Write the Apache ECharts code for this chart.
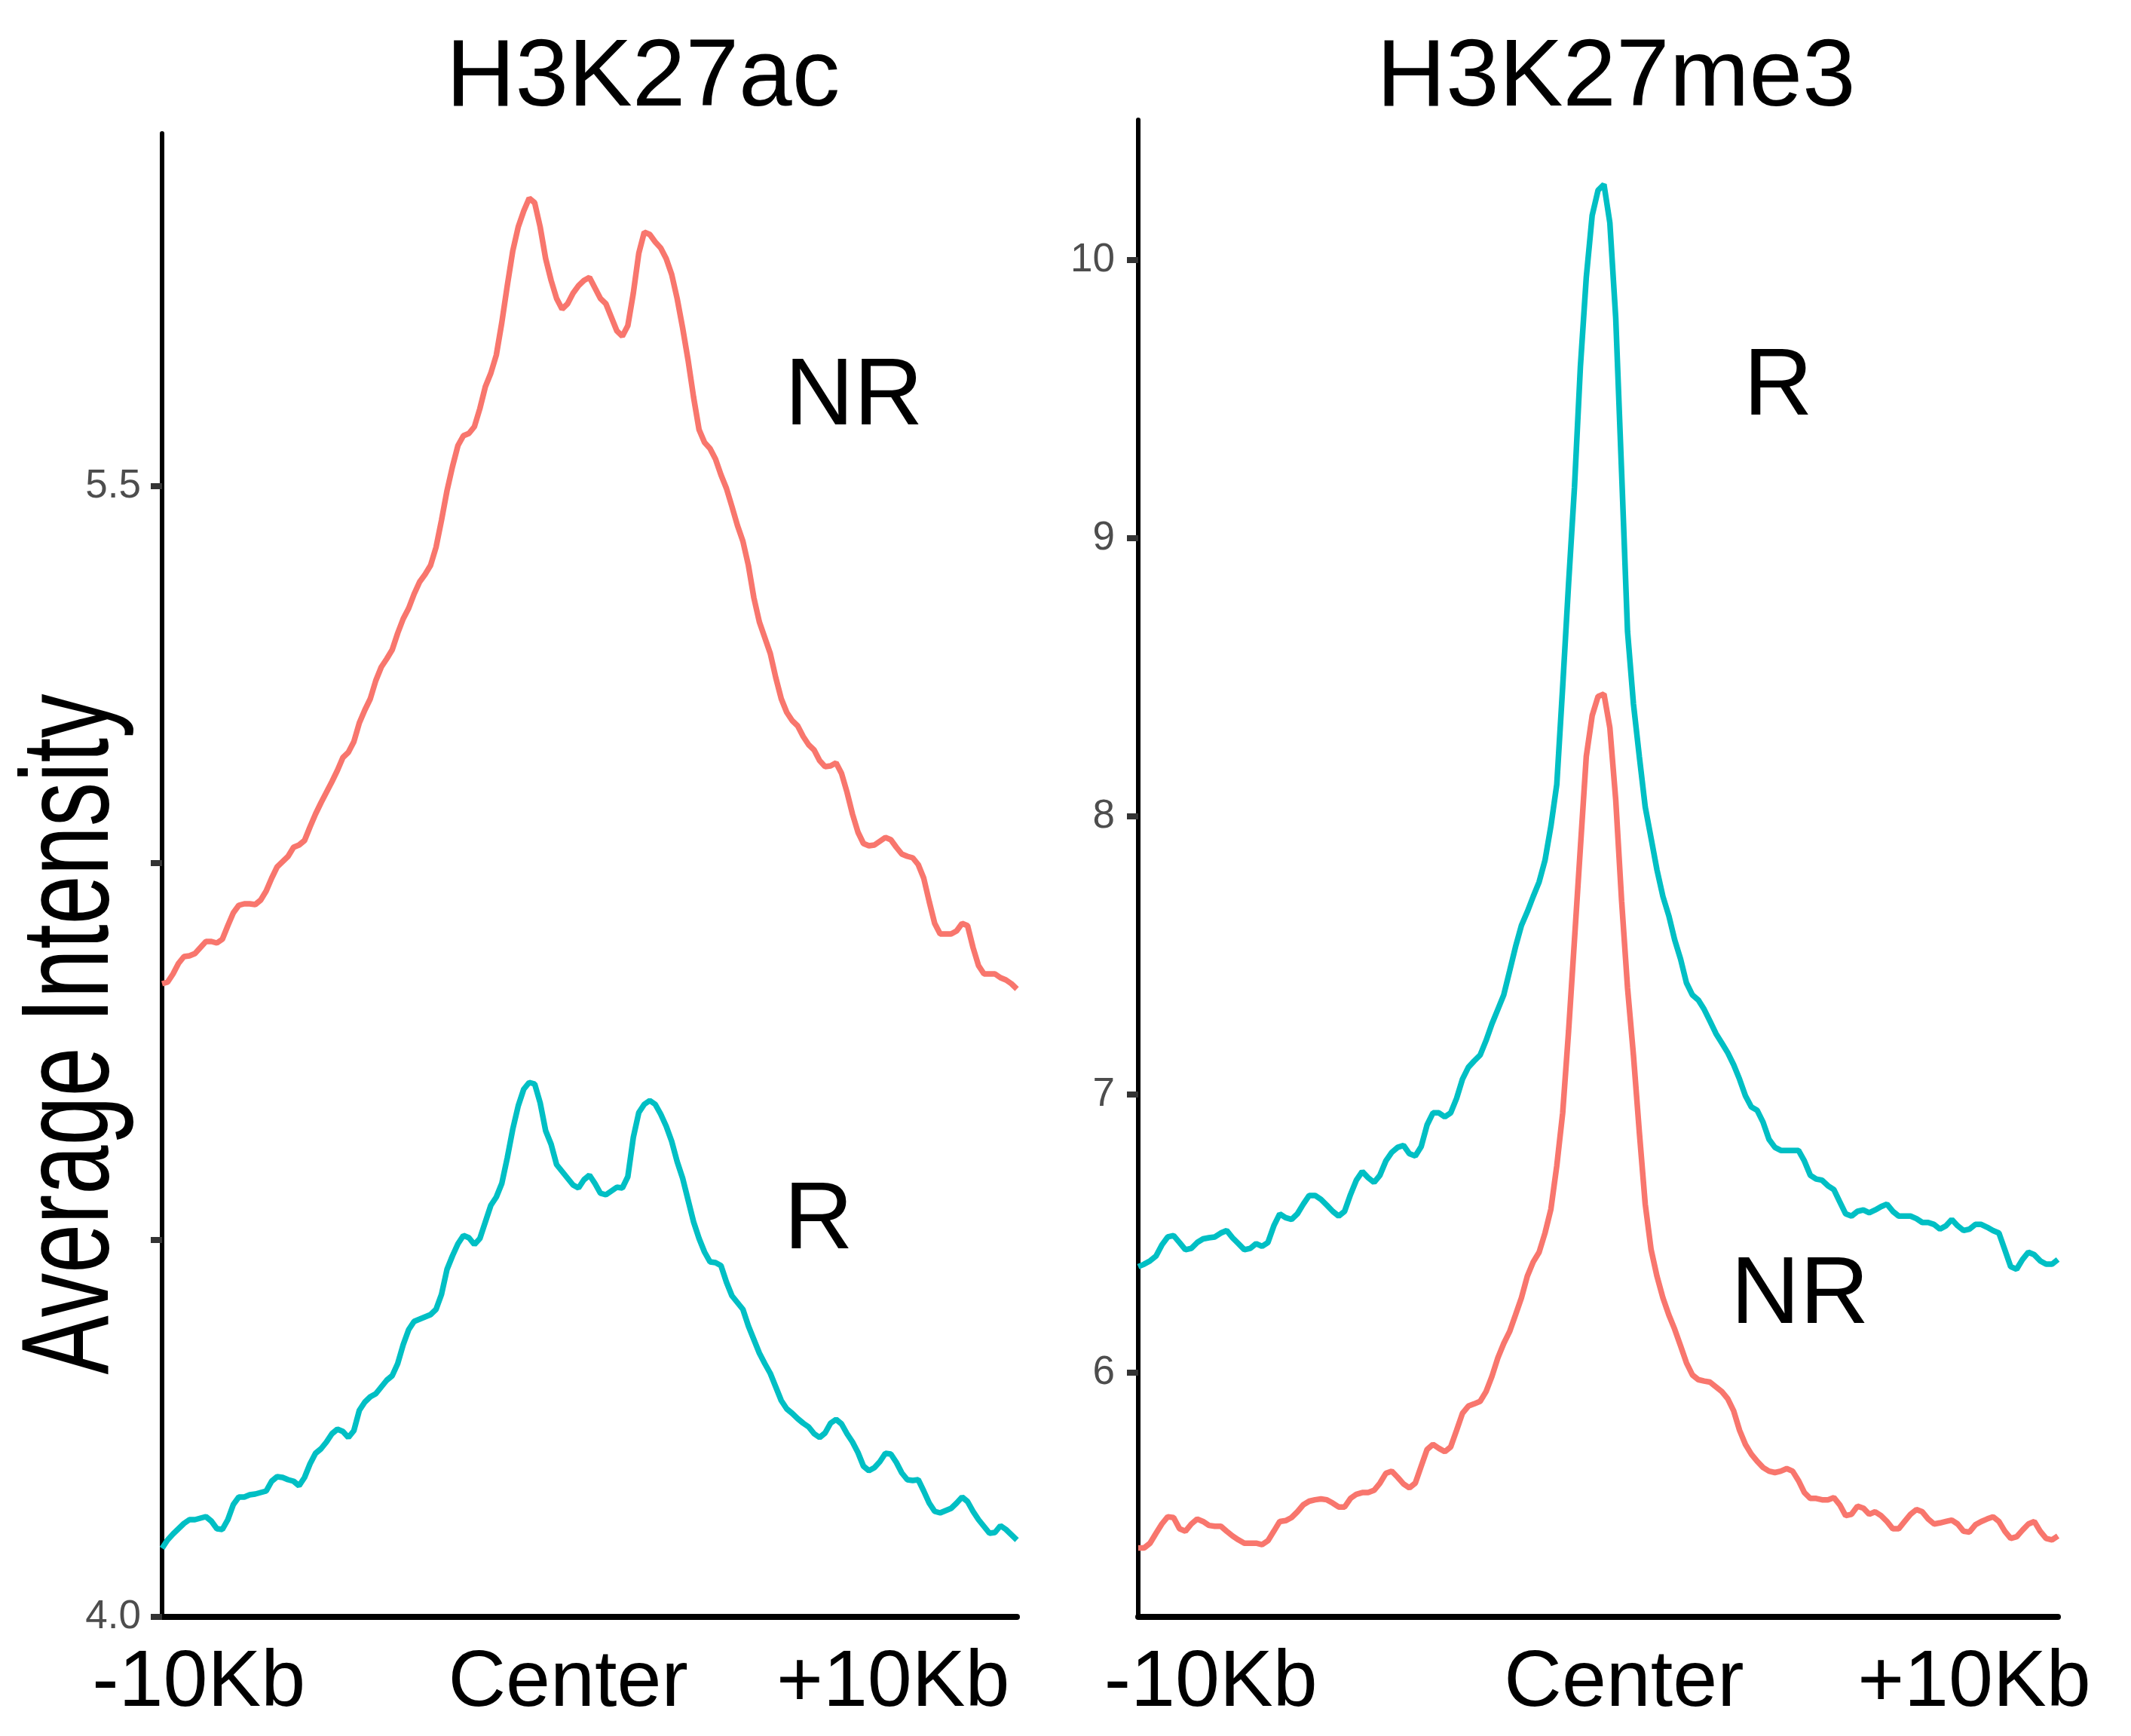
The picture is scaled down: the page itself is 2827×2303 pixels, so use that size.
<!DOCTYPE html>
<html>
<head>
<meta charset="utf-8">
<script src="https://cdn.jsdelivr.net/npm/echarts@6/dist/echarts.min.js"></script>
<style>
  html, body { margin: 0; padding: 0; background: #ffffff; }
  #chart { width: 2827px; height: 2303px; }
</style>
</head>
<body>
<div id="chart"></div>
<script>
// Average signal profiles across a ±10 kb window (157 bins per profile)

// H3K27ac panel
const acNR = [
  4.840, 4.842, 4.853, 4.867, 4.876, 4.877, 4.880, 4.888, 4.896, 4.896,
  4.894, 4.899, 4.917, 4.934, 4.944, 4.946, 4.946, 4.945, 4.951, 4.963,
  4.980, 4.995, 5.002, 5.009, 5.021, 5.024, 5.030, 5.048, 5.065, 5.080,
  5.094, 5.108, 5.123, 5.140, 5.147, 5.161, 5.186, 5.203, 5.218, 5.242,
  5.260, 5.271, 5.283, 5.305, 5.324, 5.338, 5.357, 5.373, 5.383, 5.395,
  5.419, 5.455, 5.494, 5.526, 5.554, 5.567, 5.570, 5.579, 5.603, 5.632,
  5.650, 5.674, 5.717, 5.766, 5.812, 5.844, 5.865, 5.882, 5.876, 5.844,
  5.802, 5.773, 5.749, 5.735, 5.742, 5.756, 5.766, 5.773, 5.777, 5.763,
  5.749, 5.742, 5.724, 5.706, 5.699, 5.713, 5.756, 5.809, 5.837, 5.834,
  5.824, 5.816, 5.802, 5.781, 5.749, 5.710, 5.667, 5.618, 5.575, 5.558,
  5.550, 5.536, 5.515, 5.497, 5.473, 5.448, 5.427, 5.395, 5.352, 5.320,
  5.299, 5.278, 5.246, 5.218, 5.200, 5.189, 5.182, 5.168, 5.157, 5.150,
  5.136, 5.128, 5.129, 5.133, 5.119, 5.094, 5.065, 5.041, 5.026, 5.023,
  5.024, 5.029, 5.034, 5.031, 5.021, 5.012, 5.009, 5.007, 4.998, 4.980,
  4.949, 4.920, 4.906, 4.906, 4.906, 4.910, 4.920, 4.917, 4.888, 4.864,
  4.853, 4.853, 4.853, 4.848, 4.845, 4.840, 4.833
];
const acR = [
  4.091, 4.102, 4.110, 4.117, 4.124, 4.129, 4.129, 4.131, 4.133, 4.127,
  4.117, 4.116, 4.129, 4.149, 4.159, 4.159, 4.162, 4.163, 4.165, 4.167,
  4.180, 4.186, 4.185, 4.182, 4.180, 4.174, 4.185, 4.203, 4.217, 4.223,
  4.232, 4.243, 4.249, 4.246, 4.238, 4.247, 4.274, 4.285, 4.292, 4.296,
  4.305, 4.314, 4.320, 4.336, 4.361, 4.381, 4.392, 4.395, 4.398, 4.401,
  4.408, 4.428, 4.461, 4.479, 4.495, 4.506, 4.503, 4.494, 4.502, 4.524,
  4.546, 4.557, 4.575, 4.609, 4.647, 4.678, 4.700, 4.709, 4.707, 4.682,
  4.645, 4.627, 4.600, 4.591, 4.582, 4.573, 4.569, 4.580, 4.586, 4.575,
  4.562, 4.560, 4.565, 4.570, 4.569, 4.584, 4.636, 4.669, 4.680, 4.685,
  4.680, 4.667, 4.651, 4.631, 4.604, 4.582, 4.553, 4.524, 4.502, 4.484,
  4.471, 4.470, 4.466, 4.444, 4.426, 4.417, 4.408, 4.386, 4.368, 4.350,
  4.336, 4.323, 4.305, 4.287, 4.276, 4.270, 4.263, 4.257, 4.252, 4.243,
  4.238, 4.244, 4.257, 4.262, 4.256, 4.243, 4.232, 4.218, 4.200, 4.194,
  4.198, 4.206, 4.217, 4.216, 4.205, 4.191, 4.182, 4.181, 4.182, 4.167,
  4.151, 4.140, 4.138, 4.141, 4.144, 4.151, 4.159, 4.153, 4.140, 4.129,
  4.120, 4.111, 4.112, 4.121, 4.116, 4.109, 4.102
];

// H3K27me3 panel
const me3R = [
  6.381, 6.390, 6.402, 6.419, 6.459, 6.488, 6.493, 6.468, 6.442, 6.447,
  6.468, 6.481, 6.485, 6.488, 6.502, 6.511, 6.485, 6.464, 6.442, 6.447,
  6.464, 6.454, 6.468, 6.528, 6.571, 6.557, 6.551, 6.571, 6.606, 6.637,
  6.637, 6.623, 6.602, 6.580, 6.563, 6.580, 6.640, 6.692, 6.723, 6.701,
  6.684, 6.710, 6.761, 6.792, 6.810, 6.817, 6.787, 6.779, 6.813, 6.891,
  6.934, 6.934, 6.920, 6.934, 6.986, 7.055, 7.098, 7.121, 7.142, 7.194,
  7.254, 7.306, 7.358, 7.444, 7.531, 7.608, 7.657, 7.712, 7.764, 7.842,
  7.965, 8.115, 8.466, 8.837, 9.183, 9.615, 9.937, 10.160, 10.251, 10.272,
  10.134, 9.791, 9.235, 8.665, 8.405, 8.215, 8.034, 7.921, 7.807, 7.712,
  7.643, 7.556, 7.487, 7.401, 7.358, 7.340, 7.306, 7.263, 7.219, 7.185,
  7.150, 7.107, 7.055, 6.995, 6.955, 6.943, 6.900, 6.839, 6.810, 6.799,
  6.799, 6.799, 6.799, 6.761, 6.710, 6.696, 6.692, 6.672, 6.658, 6.614,
  6.571, 6.563, 6.580, 6.585, 6.575, 6.585, 6.597, 6.606, 6.580, 6.563,
  6.563, 6.563, 6.554, 6.540, 6.540, 6.533, 6.516, 6.528, 6.551, 6.528,
  6.511, 6.516, 6.533, 6.533, 6.523, 6.511, 6.502, 6.442, 6.381, 6.372,
  6.407, 6.433, 6.424, 6.402, 6.390, 6.390, 6.407
];
const me3NR = [
  5.370, 5.370, 5.387, 5.422, 5.456, 5.482, 5.479, 5.439, 5.430, 5.456,
  5.474, 5.465, 5.451, 5.448, 5.448, 5.430, 5.413, 5.399, 5.387, 5.387,
  5.387, 5.382, 5.396, 5.430, 5.465, 5.468, 5.479, 5.500, 5.525, 5.538,
  5.543, 5.546, 5.543, 5.531, 5.517, 5.517, 5.548, 5.563, 5.569, 5.569,
  5.577, 5.603, 5.638, 5.646, 5.624, 5.600, 5.586, 5.603, 5.664, 5.724,
  5.742, 5.728, 5.716, 5.733, 5.793, 5.854, 5.880, 5.888, 5.897, 5.932,
  5.987, 6.053, 6.105, 6.148, 6.208, 6.269, 6.347, 6.398, 6.433, 6.502,
  6.588, 6.744, 6.934, 7.228, 7.556, 7.887, 8.215, 8.362, 8.431, 8.440,
  8.319, 8.059, 7.695, 7.384, 7.142, 6.865, 6.606, 6.442, 6.346, 6.269,
  6.208, 6.156, 6.096, 6.035, 5.992, 5.975, 5.970, 5.966, 5.949, 5.932,
  5.906, 5.863, 5.793, 5.742, 5.707, 5.681, 5.659, 5.646, 5.641, 5.646,
  5.655, 5.646, 5.612, 5.569, 5.548, 5.548, 5.543, 5.543, 5.551, 5.525,
  5.486, 5.491, 5.520, 5.513, 5.491, 5.500, 5.486, 5.465, 5.439, 5.439,
  5.465, 5.491, 5.508, 5.500, 5.474, 5.456, 5.460, 5.465, 5.470, 5.456,
  5.430, 5.427, 5.453, 5.465, 5.474, 5.482, 5.465, 5.430, 5.404, 5.410,
  5.434, 5.456, 5.465, 5.430, 5.404, 5.399, 5.413
];

// Axis labels and ticks
const panelTitles = ['H3K27ac', 'H3K27me3'];
const xTickLabels = ['-10Kb', 'Center', '+10Kb'];
const acYTicks = [4.0, 4.5, 5.0, 5.5];
const acYLabels = [4.0, 5.5];
const me3YTicks = [6, 7, 8, 9, 10];
const yAxisTitle = 'Average Intensity';

// Layout: where each x label sits along the bin index axis
const layout = {
  lastBin: 156,
  acXLabelAt: [6.7, 74.1, 133.4],
  me3XLabelAt: [12.3, 82.4, 141.8],
  acRange: [4.0, 5.968],
  me3Range: [5.122, 10.504]
};

const RED = '#F8766D';
const CYAN = '#00BFC4';
const SANS = "'Liberation Sans', Arial, sans-serif";

const toPoints = arr => arr.map((v, i) => [i, v]);

function xAxisFor(gridIndex, labelAt) {
  return {
    type: 'value', gridIndex, min: 0, max: layout.lastBin,
    axisLine: { show: true, onZero: false, lineStyle: { color: '#000', width: 8 } },
    axisTick: { show: false },
    splitLine: { show: false },
    axisLabel: {
      customValues: labelAt,
      formatter: v => {
        let k = 0, best = Infinity;
        labelAt.forEach((p, i) => { const d = Math.abs(p - v); if (d < best) { best = d; k = i; } });
        return xTickLabels[k];
      },
      color: '#000', fontSize: 106, fontFamily: SANS, margin: 36
    }
  };
}

function yAxisFor(gridIndex, range, ticks, labels, margin) {
  return {
    type: 'value', gridIndex, min: range[0], max: range[1],
    axisLine: { show: true, onZero: false, lineStyle: { color: '#000', width: 6 } },
    axisTick: { show: true, customValues: ticks, length: 15, lineStyle: { color: '#333333', width: 8 } },
    splitLine: { show: false },
    axisLabel: {
      customValues: labels,
      formatter: v => gridIndex === 1 ? String(v) : v.toFixed(1),
      color: '#4D4D4D', fontSize: 53, fontFamily: SANS, margin
    }
  };
}

const lineSeries = (name, data, color, axisIndex) => ({
  name, type: 'line', xAxisIndex: axisIndex, yAxisIndex: axisIndex,
  data: toPoints(data), showSymbol: false, symbol: 'none', smooth: false,
  lineStyle: { color, width: 7.5 }, silent: true
});

const textEl = (text, x, y, size, align) => ({
  type: 'text', x, y, silent: true,
  style: { text, font: `normal ${size}px ${SANS}`, fill: '#000', align: align || 'left', verticalAlign: 'middle' }
});

const chart = echarts.init(document.getElementById('chart'), null, { renderer: 'canvas' });
chart.setOption({
  animation: false,
  backgroundColor: '#ffffff',
  grid: [
    { left: 215, top: 177, width: 1134, height: 1968, containLabel: false, outerBoundsMode: 'none' },
    { left: 1510, top: 159, width: 1220, height: 1986, containLabel: false, outerBoundsMode: 'none' }
  ],
  xAxis: [xAxisFor(0, layout.acXLabelAt), xAxisFor(1, layout.me3XLabelAt)],
  yAxis: [
    yAxisFor(0, layout.acRange, acYTicks, acYLabels, 28),
    yAxisFor(1, layout.me3Range, me3YTicks, me3YTicks, 31)
  ],
  series: [
    lineSeries('NR', acNR, RED, 0),
    lineSeries('R', acR, CYAN, 0),
    lineSeries('R', me3R, CYAN, 1),
    lineSeries('NR', me3NR, RED, 1)
  ],
  graphic: [
    textEl(panelTitles[0], 853, 105, 127, 'center'),
    textEl(panelTitles[1], 2144, 105, 127, 'center'),
    textEl('NR', 1041, 528, 127),
    textEl('R', 1040, 1621, 127),
    textEl('R', 2313, 515, 127),
    textEl('NR', 2296, 1720, 127),
    {
      type: 'text', x: 97, y: 1372, rotation: Math.PI / 2, scaleX: 0.71, scaleY: 1, silent: true,
      style: { text: yAxisTitle, font: `normal 165px ${SANS}`, fill: '#000', align: 'center', verticalAlign: 'middle' }
    }
  ]
});
</script>
</body>
</html>
